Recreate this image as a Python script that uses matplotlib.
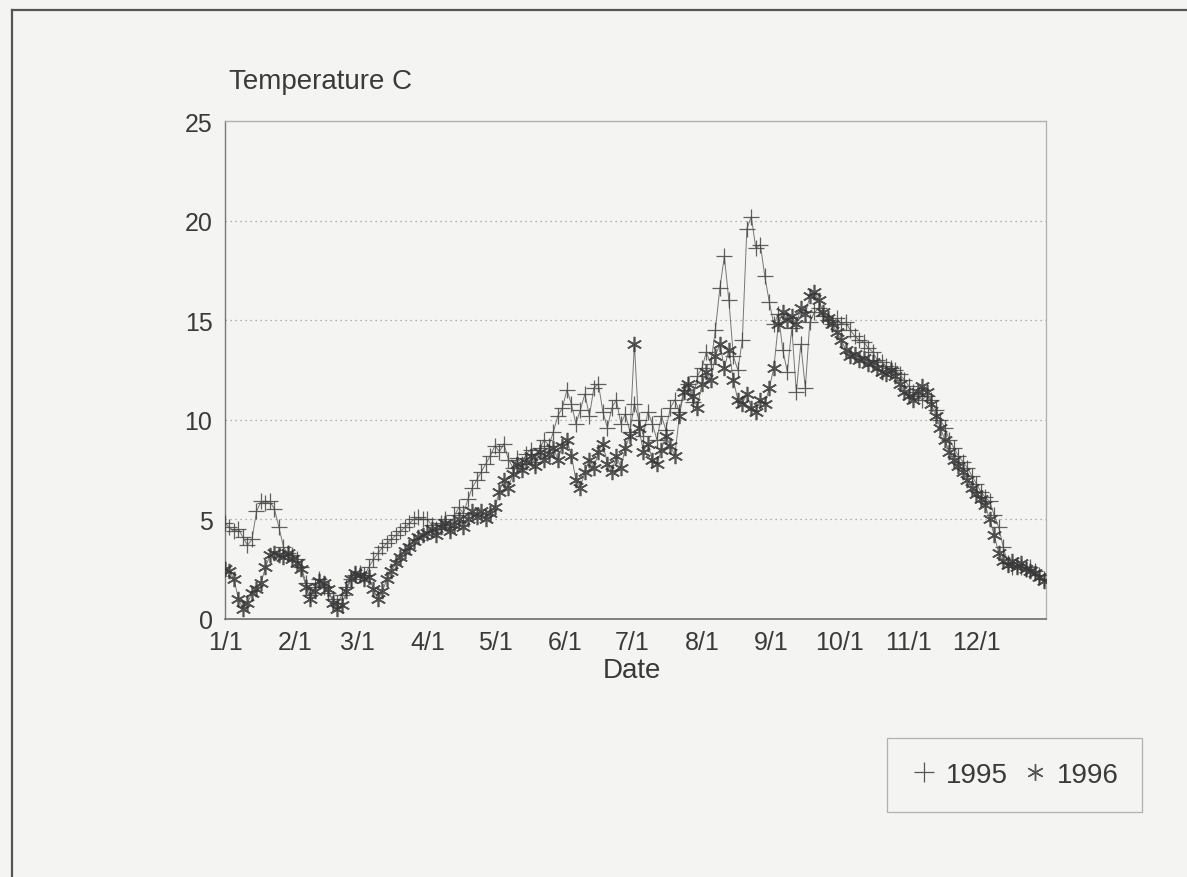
import numpy as np
import matplotlib
matplotlib.use("Agg")
import matplotlib.pyplot as plt
from matplotlib.lines import Line2D

# ---- data (values every 2 days, starting 1/1) ----
temp_1995 = [
    # Jan
    4.8, 4.6, 4.4, 4.5, 4.1, 3.7, 4.0, 5.4, 5.9, 5.8, 5.9, 5.5, 4.6, 3.6, 3.3, 3.2,
    # Feb
    3.0, 2.6, 1.8, 1.2, 1.6, 2.0, 1.6, 1.3, 1.0, 0.8, 1.2, 1.6, 2.0, 2.2,
    # Mar
    2.3, 2.2, 2.6, 3.0, 3.3, 3.6, 3.8, 4.0, 4.2, 4.4, 4.6, 4.8, 5.0, 5.1, 5.0,
    # Apr
    5.0, 4.7, 4.5, 4.8, 5.0, 4.6, 5.2, 5.6, 5.3, 6.0, 6.6, 7.0, 7.4, 7.8, 8.2,
    # May
    8.7, 8.4, 8.8, 8.0, 7.6, 8.1, 7.8, 8.3, 8.5, 7.9, 8.6, 9.0, 8.7, 9.4, 10.2, 10.6,
    # Jun
    11.5, 10.8, 9.8, 10.5, 11.3, 10.2, 11.6, 11.8, 10.4, 9.6, 10.6, 11.0, 9.8, 10.3, 9.4,
    # Jul
    10.8, 10.0, 9.2, 10.4, 9.8, 9.0, 10.2, 9.5, 10.6, 11.0, 10.4, 11.5, 11.8, 10.9, 12.2,
    # Aug
    12.6, 13.4, 12.8, 14.5, 16.6, 18.2, 16.0, 13.2, 12.5, 14.0, 19.6, 20.2, 18.6, 18.8, 17.2, 15.9,
    # Sep
    14.8, 15.3, 13.5, 12.4, 14.6, 11.4, 13.8, 11.6, 14.9, 15.4, 15.6, 15.2, 15.0, 14.8, 15.1,
    # Oct
    14.8, 14.9, 14.5, 14.2, 14.0, 13.9, 13.6, 13.4, 13.0, 12.9, 12.7, 12.6, 12.5, 12.3, 12.0,
    # Nov
    11.7, 11.4, 11.2, 11.0, 11.2, 11.0, 10.5, 10.0, 9.6, 9.0, 8.6, 8.2, 7.9, 7.6, 7.2,
    # Dec
    6.8, 6.4, 6.1, 5.9, 5.2, 4.6, 3.6, 2.8, 2.6, 2.7, 2.6, 2.5, 2.6, 2.4, 2.2, 2.0,
]

temp_1996 = [
    # Jan
    2.5, 2.4, 2.0, 1.0, 0.5, 0.8, 1.3, 1.5, 1.8, 2.6, 3.2, 3.3, 3.2, 3.1, 3.3, 3.0,
    # Feb
    2.8, 2.5, 1.6, 1.0, 1.4, 1.9, 1.8, 1.5, 0.8, 0.5, 0.7, 1.4, 2.0, 2.3,
    # Mar
    2.2, 2.0, 2.1, 1.5, 1.0, 1.4, 2.0, 2.4, 2.8, 3.1, 3.4, 3.6, 3.9, 4.1, 4.2,
    # Apr
    4.3, 4.5, 4.2, 4.6, 4.8, 4.4, 4.7, 5.0, 4.6, 5.0, 5.4, 5.1, 5.4, 5.0, 5.3,
    # May
    5.6, 6.4, 7.0, 6.6, 7.3, 7.8, 7.5, 7.9, 8.2, 7.7, 8.4, 8.0, 8.3, 8.6, 8.0, 8.7,
    # Jun
    9.0, 8.2, 7.0, 6.6, 7.4, 8.0, 7.6, 8.4, 8.8, 7.8, 7.4, 8.2, 7.6, 8.6, 9.2,
    # Jul
    13.8, 9.6, 8.4, 8.8, 8.0, 7.8, 8.5, 9.2, 8.7, 8.2, 10.2, 11.4, 11.8, 11.2, 10.6,
    # Aug
    11.8, 12.4, 12.0, 13.2, 13.8, 12.6, 13.5, 12.0, 11.0, 10.8, 11.3, 10.6, 10.4, 11.0, 10.8, 11.6,
    # Sep
    12.6, 14.8, 15.4, 15.0, 15.2, 14.8, 15.6, 15.3, 16.2, 16.4, 16.0, 15.4, 15.1, 14.8, 14.4,
    # Oct
    14.0, 13.5, 13.2, 13.3, 13.0, 13.1, 12.8, 12.9, 12.6, 12.4, 12.3, 12.5, 12.2, 11.8, 11.4,
    # Nov
    11.2, 11.0, 11.4, 11.7, 11.4, 10.8, 10.2, 9.6, 9.0, 8.4, 8.0, 7.7, 7.4, 7.0, 6.6,
    # Dec
    6.3, 6.0, 5.7, 5.0, 4.2, 3.3, 2.9, 2.7, 2.9, 2.6, 2.8, 2.5, 2.4, 2.3, 2.1, 1.9,
]

month_labels = ["1/1", "2/1", "3/1", "4/1", "5/1", "6/1", "7/1", "8/1",
                "9/1", "10/1", "11/1", "12/1"]
month_start_days = [0, 31, 59, 90, 120, 151, 181, 212, 243, 273, 304, 334]
y_ticks = [0, 5, 10, 15, 20, 25]
series_labels = ["1995", "1996"]

days_1995 = np.arange(len(temp_1995)) * 2
days_1996 = np.arange(len(temp_1996)) * 2

# ---- figure ----
plt.rcParams['font.family'] = ['Liberation Sans', 'DejaVu Sans']
W, H = 1187, 878
fig = plt.figure(figsize=(W / 100, H / 100), dpi=100)
bg = "#f4f4f2"
fig.patch.set_facecolor(bg)

ax = fig.add_axes([225 / W, 1 - 620 / H, (1046 - 225) / W, (620 - 122) / H])
ax.set_facecolor(bg)

ink = "#3a3a3a"
star = (6, 2, 0)

ax.plot(days_1995, temp_1995, color="#606060", lw=0.7, alpha=0.85,
        marker="+", markersize=12, markeredgewidth=0.9, markeredgecolor="#454545",
        zorder=3)
ax.plot(days_1996, temp_1996, color="#606060", lw=0.7, alpha=0.85,
        marker=star, markersize=11, markeredgewidth=1.2, markeredgecolor="#383838",
        zorder=3)

ax.set_xlim(0, 365)
ax.set_ylim(0, 25)
ax.set_xticks(month_start_days)
ax.set_xticklabels(month_labels)
ax.set_yticks(y_ticks)
ax.tick_params(axis="both", length=0, labelsize=18, colors=ink)
ax.tick_params(axis="y", pad=9)
ax.tick_params(axis="x", pad=8)

for v in y_ticks[1:-1]:
    ax.axhline(v, color="#9a9a9a", lw=0.9, ls=(0, (1, 3)), zorder=1)

ax.spines["left"].set_color("#777777")
ax.spines["left"].set_linewidth(1.0)
ax.spines["bottom"].set_color("#777777")
ax.spines["bottom"].set_linewidth(1.3)
ax.spines["top"].set_color("#b0b0b0")
ax.spines["top"].set_linestyle((0, (2, 1)))
ax.spines["top"].set_linewidth(1.0)
ax.spines["right"].set_color("#b0b0b0")
ax.spines["right"].set_linewidth(0.9)

ax.set_xlabel("Date", fontsize=20, color=ink)
ax.xaxis.set_label_coords((632 - 225) / 821, (620 - 658) / 498)
fig.text(229 / W, 1 - 82 / H, "Temperature C", fontsize=20, color=ink,
         ha="left", va="center")

handles = [
    Line2D([], [], ls="none", marker="+", markersize=14, markeredgewidth=0.9,
           color="#555555"),
    Line2D([], [], ls="none", marker=star, markersize=12, markeredgewidth=1.0,
           color="#555555"),
]
leg = fig.legend(handles, series_labels, loc="center",
                 bbox_to_anchor=((891 + 1138) / 2 / W, 1 - 776 / H),
                 ncol=2, fontsize=20, frameon=True, fancybox=False,
                 handlelength=1.0, handletextpad=0.3, columnspacing=0.45,
                 borderpad=0.85, labelcolor=ink)
leg.get_frame().set_edgecolor("#a0a0a0")
leg.get_frame().set_linewidth(0.9)
leg.get_frame().set_facecolor(bg)

# page frame (top and left edge)
fig.add_artist(Line2D([12 / W, 12 / W], [0, 1 - 11 / H], transform=fig.transFigure,
                      color="#555555", lw=1.6))
fig.add_artist(Line2D([12 / W, 1], [1 - 11 / H, 1 - 11 / H], transform=fig.transFigure,
                      color="#555555", lw=1.6))

fig.savefig("out.png", dpi=100, facecolor=bg)
